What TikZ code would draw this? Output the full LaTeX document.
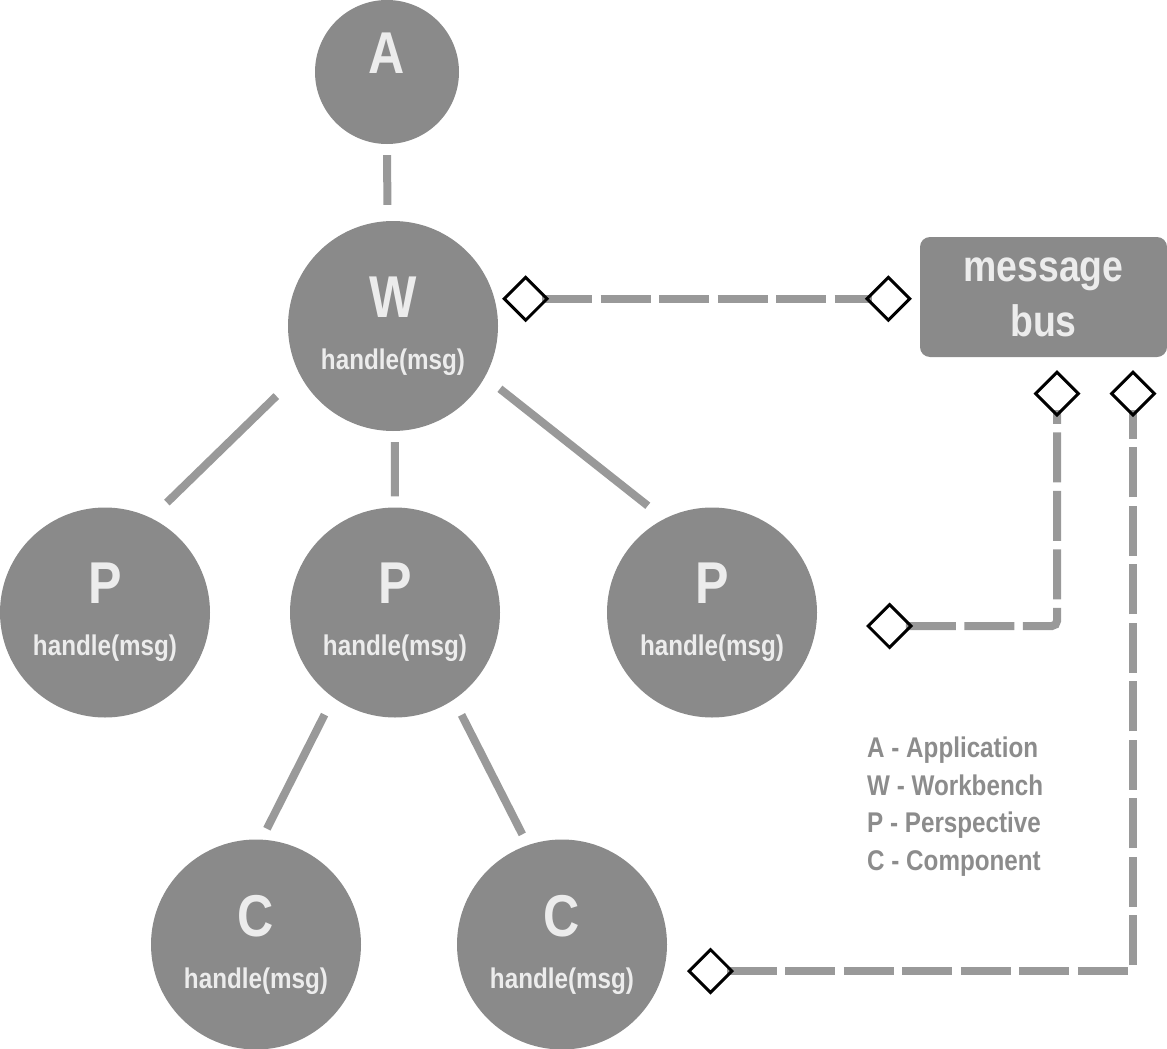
\documentclass[tikz,border=0pt]{standalone}
\usepackage{fontspec}
\setmainfont{Liberation Sans}[FakeStretch=0.85]
\usetikzlibrary{arrows.meta}
\definecolor{nodegray}{HTML}{8A8A8A}
\definecolor{linegray}{HTML}{999999}
\definecolor{partlabel}{HTML}{ECECEC}
\definecolor{keygray}{HTML}{8C8C8C}
\newcommand{\letterfont}{\fontsize{59pt}{52pt}\selectfont}
\newcommand{\handlefont}{\fontsize{28.5pt}{52pt}\selectfont}
\begin{document}
\begin{tikzpicture}[x=1pt, y=-1pt]
    \tikzstyle{every node}=[inner sep=0pt, font=\bfseries]
    \tikzstyle{part}=[circle, fill=nodegray, text=partlabel, minimum size=210pt, align=center, font=\bfseries\handlefont]
    \tikzstyle{bus}=[rectangle, rounded corners=10pt, fill=nodegray, text=partlabel, minimum width=247pt, minimum height=120pt, align=center, font=\bfseries\fontsize{44pt}{55pt}\selectfont]
    \tikzstyle{legend}=[align=left, text=keygray, font=\bfseries\fontsize{28.5pt}{37.5pt}\selectfont]
    \tikzstyle{buslink}=[draw=linegray, line width=8pt, dash pattern=on 50pt off 8.5pt, rounded corners=5pt,
        {Diamond[open, length=47pt, width=47pt, line width=3pt, color=black]}-{Diamond[open, length=47pt, width=47pt, line width=3pt, color=black]}]
    \tikzset{edge from parent/.style={draw, line width=8pt, color=linegray}}
    \tikzset{level 1/.style={level distance=254pt},
             level 2/.style={level distance=286.5pt, sibling distance=303pt},
             level 3/.style={level distance=332pt, sibling distance=306pt}}
    \useasboundingbox (0,0) rectangle (1167,1049);
    \node[part, minimum size=144pt, text depth=38pt, font=\bfseries\letterfont] (A) at (387,72) {A}
        child[xshift=6pt, parent anchor=south, child anchor=93]
        {
            node[part] (W) {{\letterfont W}\\handle(msg)}
                child[xshift=15pt, parent anchor=207, child anchor=64]
                {
                    node[part] (P1) {{\letterfont P}\\handle(msg)}
                    edge from parent[shorten <=32pt, shorten >=22pt]
                }
                child[xshift=2pt, parent anchor=271, child anchor=north]
                {
                    node[part] (P2) {{\letterfont P}\\handle(msg)}
                        child[xshift=14pt, parent anchor=234, child anchor=87]
                        {
                            node[part] (C1) {{\letterfont C}\\handle(msg)}
                            edge from parent[shorten <=19pt, shorten >=12pt]
                        }
                        child[xshift=14pt, parent anchor=304, child anchor=109]
                        {
                            node[part] (C2) {{\letterfont C}\\handle(msg)}
                            edge from parent[shorten <=17pt, shorten >=12pt]
                        }
                    edge from parent[shorten <=11pt, shorten >=11pt]
                }
                child[xshift=16pt, parent anchor=331, child anchor=117]
                {
                    node[part] (P3) {{\letterfont P}\\handle(msg)}
                    edge from parent[shorten <=19pt, shorten >=21pt]
                }
            edge from parent[shorten <=11pt, shorten >=16pt]
        };
    \node[bus] (bus) at (1043.5,297) {message\\bus};
    \coordinate (pfree) at (866,626);
    \coordinate (cfree) at (687,971);
    % connections to the bus
    \draw[buslink, shorten <=7.6pt, shorten >=8pt] (W.15) -- (W.15 -| bus.west);
    \draw[buslink, shorten >=13pt] (pfree) -| ([xshift=13.5pt]bus.south);
    \draw[buslink, shorten >=13pt] (cfree) -| ([xshift=89.5pt]bus.south);
    \node[legend, anchor=north west] (key) at (867,737) {A - Application\\W - Workbench\\P - Perspective\\C - Component};
\end{tikzpicture}
\end{document}
